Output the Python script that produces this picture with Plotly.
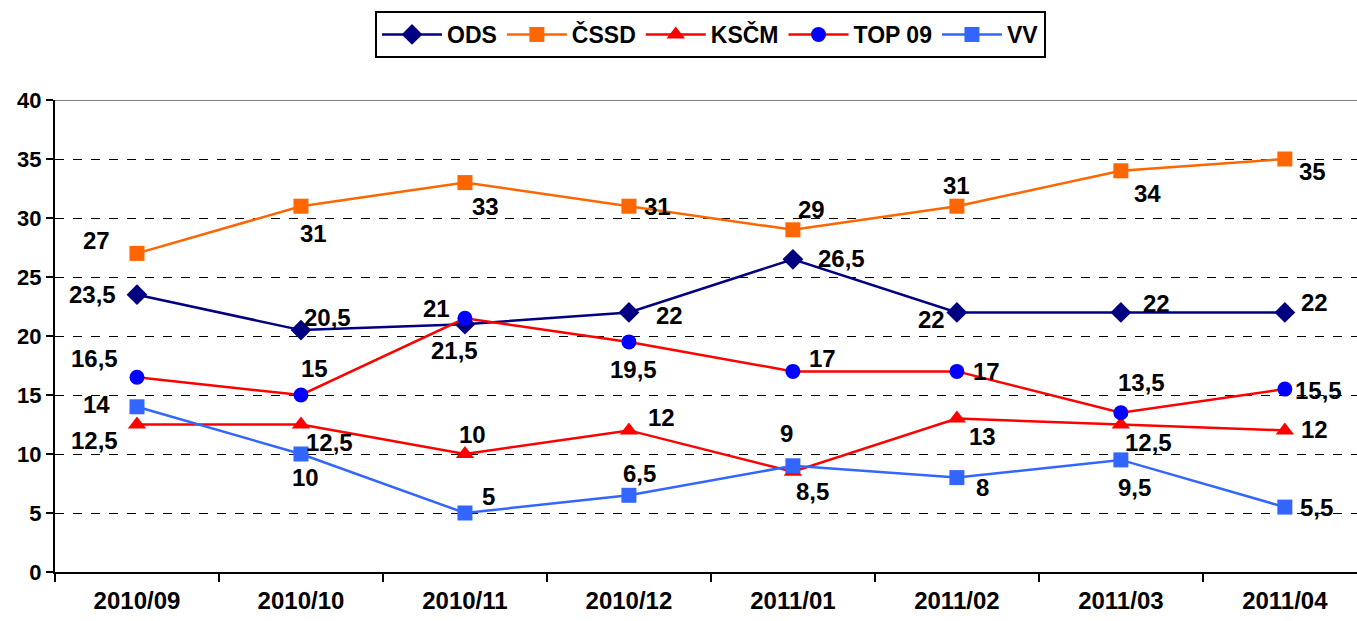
import plotly.graph_objects as go

months = ["2010/09", "2010/10", "2010/11", "2010/12", "2011/01", "2011/02", "2011/03", "2011/04"]
ods = [23.5, 20.5, 21, 22, 26.5, 22, 22, 22]
cssd = [27, 31, 33, 31, 29, 31, 34, 35]
kscm = [12.5, 12.5, 10, 12, 8.5, 13, 12.5, 12]
top09 = [16.5, 15, 21.5, 19.5, 17, 17, 13.5, 15.5]
vv = [14, 10, 5, 6.5, 9, 8, 9.5, 5.5]
y_ticks = [0, 5, 10, 15, 20, 25, 30, 35, 40]

# label offsets in pixels (dx, dy screen-down)
off = {
    "ODS": [(-44, 0), (27, -13), (-28, -16), (41, 3), (49, -1), (-25, 7), (36, -9), (30, -10)],
    "ČSSD": [(-40, -13), (13, 27), (21, 24), (29, 0), (19, -20), (0, -21), (27, 23), (28, 12)],
    "KSČM": [(-42, 16), (29, 18), (8, -20), (33, -13), (20, 20), (26, 18), (28, 18), (30, -1)],
    "TOP 09": [(-42, -19), (14, -27), (-10, 32), (5, 28), (30, -13), (30, 0), (21, -30), (34, 1)],
    "VV": [(-40, -2), (5, 23), (24, -17), (11, -22), (-6, -32), (26, 10), (14, 28), (32, 0)],
}

series = [
    ("ODS", ods, "#000080", "#000080", "diamond", 16),
    ("ČSSD", cssd, "#FF6600", "#FF6600", "square", 15),
    ("KSČM", kscm, "#FF0000", "#FF0000", "triangle-up", 16),
    ("TOP 09", top09, "#FF0000", "#0000FF", "circle", 15),
    ("VV", vv, "#3366FF", "#3366FF", "square", 15),
]

FONT = "Liberation Sans, Arial, sans-serif"
fig = go.Figure()
ann = []
for name, vals, lc, mc, sym, ms in series:
    fig.add_trace(go.Scatter(
        x=months, y=vals, name=name, mode="lines+markers",
        line=dict(color=lc, width=2.5),
        marker=dict(symbol=sym, size=ms, color=mc, line=dict(width=0)),
    ))
    for i, v in enumerate(vals):
        dx, dy = off[name][i]
        ann.append(dict(x=months[i], y=v, xref="x", yref="y",
                        text="<b>" + f"{v:g}".replace(".", ",") + "</b>",
                        showarrow=False, xshift=dx, yshift=-dy,
                        font=dict(family=FONT, size=24, color="black")))

fig.add_shape(type="line", xref="paper", x0=0, x1=1, yref="y", y0=40, y1=40,
              line=dict(color="#808080", width=2), layer="below")

fig.update_layout(
    width=1357, height=621,
    margin=dict(l=55, r=0, t=100, b=49, autoexpand=False),
    paper_bgcolor="white", plot_bgcolor="white",
    font=dict(family=FONT, size=20, color="black"),
    annotations=ann,
    showlegend=True,
    legend=dict(orientation="h", x=0.5236, xanchor="center", xref="container",
                y=1 - 11 / 621, yref="container", yanchor="top",
                bordercolor="black", borderwidth=2,
                font=dict(family=FONT, size=23, color="black", weight="bold"),
                itemwidth=60, tracegroupgap=0),
)
fig.update_xaxes(
    type="category", range=[-0.5, 7.44], automargin=False,
    showline=True, linecolor="black", linewidth=2,
    ticks="outside", tickson="boundaries", ticklen=8, tickwidth=2, tickcolor="black",
    showgrid=False, zeroline=False,
    tickfont=dict(family=FONT, size=24, color="black", weight="bold"),
    ticklabelstandoff=6,
)
fig.update_yaxes(
    range=[0, 40], tickvals=y_ticks, automargin=False,
    showline=True, linecolor="black", linewidth=2,
    ticks="outside", ticklen=7, tickwidth=2, tickcolor="black",
    showgrid=True, gridcolor="black", griddash="dash", gridwidth=1,
    zeroline=False,
    tickfont=dict(family=FONT, size=22, color="black", weight="bold"),
)
fig.write_html("out.html", config={"displayModeBar": False},
               post_script="document.body.style.margin='0px';")
